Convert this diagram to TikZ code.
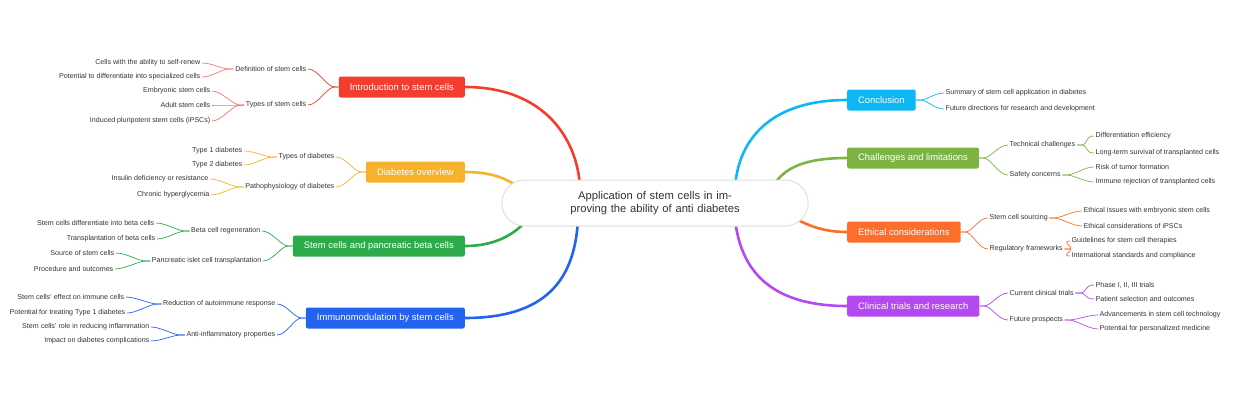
\documentclass[tikz,border=0pt]{standalone}
\usepackage{fontspec}
\setmainfont{Liberation Sans}
\usetikzlibrary{shapes.misc,backgrounds}
\definecolor{cred}{HTML}{F23D2F}
\definecolor{cyel}{HTML}{F6B22B}
\definecolor{cgrn}{HTML}{2DAB4B}
\definecolor{cblu}{HTML}{2462F0}
\definecolor{ccya}{HTML}{0DB7F6}
\definecolor{clim}{HTML}{7DB343}
\definecolor{cora}{HTML}{FF6D2A}
\definecolor{cpur}{HTML}{B449F2}
\definecolor{txt}{HTML}{333333}
\begin{document}
\begin{tikzpicture}[x=1pt,y=-1pt,
  main/.style={rounded corners=2pt,text=white,font=\fontsize{9.4}{11}\selectfont,minimum height=21,inner xsep=11pt},
  lt/.style={text=txt,font=\fontsize{7.1}{8}\selectfont,inner sep=1.5pt},
  mc/.style={line width=2.6pt},
  sc/.style={line width=0.7pt}]
\useasboundingbox (0,0) rectangle (1240,400);
\node[rounded rectangle,draw=gray!25,line width=1pt,fill=white,minimum width=313,minimum height=46,text width=270,align=center,text=txt,font=\fontsize{11.2}{13}\selectfont] (ctr) at (655,203) {Application of stem cells in improving the ability of anti diabetes};
\coordinate (e1) at (580,188); \coordinate (e2) at (525,192);
\coordinate (e3) at (530,216); \coordinate (e4) at (578,220);
\coordinate (e5) at (735,188); \coordinate (e6) at (770,192);
\coordinate (e7) at (785,214); \coordinate (e8) at (735,220);
% main nodes
\node[main,fill=cred,anchor=east] (m1) at (465,87) {Introduction to stem cells};
\node[main,fill=cyel,anchor=east] (m2) at (465,172) {Diabetes overview};
\node[main,fill=cgrn,anchor=east] (m3) at (465,246) {Stem cells and pancreatic beta cells};
\node[main,fill=cblu,anchor=east] (m4) at (465,318) {Immunomodulation by stem cells};
\node[main,fill=ccya,anchor=west] (m5) at (847,100) {Conclusion};
\node[main,fill=clim,anchor=west] (m6) at (847,158) {Challenges and limitations};
\node[main,fill=cora,anchor=west] (m7) at (847,232) {Ethical considerations};
\node[main,fill=cpur,anchor=west] (m8) at (847,306) {Clinical trials and research};
\begin{scope}[on background layer]
\draw[mc,cred] (m1.east) .. controls (545,87) and (578,140) .. (e1);
\draw[mc,cyel] (m2.east) .. controls (495,172) and (510,180) .. (e2);
\draw[mc,cgrn] (m3.east) .. controls (500,246) and (520,230) .. (e3);
\draw[mc,cblu] (m4.east) .. controls (555,318) and (575,270) .. (e4);
\draw[mc,ccya] (m5.west) .. controls (770,100) and (738,140) .. (e5);
\draw[mc,clim] (m6.west) .. controls (800,158) and (780,170) .. (e6);
\draw[mc,cora] (m7.west) .. controls (815,232) and (800,220) .. (e7);
\draw[mc,cpur] (m8.west) .. controls (760,306) and (740,260) .. (e8);
\end{scope}
% left sub nodes
\node[lt,anchor=east] (a1) at (308,69) {Definition of stem cells};
\node[lt,anchor=east] (a2) at (308,105) {Types of stem cells};
\node[lt,anchor=east] (a11) at (202,63) {Cells with the ability to self-renew};
\node[lt,anchor=east] (a12) at (202,77) {Potential to differentiate into specialized cells};
\node[lt,anchor=east] (a21) at (212,91) {Embryonic stem cells};
\node[lt,anchor=east] (a22) at (212,105) {Adult stem cells};
\node[lt,anchor=east] (a23) at (212,121) {Induced pluripotent stem cells (iPSCs)};
\node[lt,anchor=east] (b1) at (336,157) {Types of diabetes};
\node[lt,anchor=east] (b2) at (336,187) {Pathophysiology of diabetes};
\node[lt,anchor=east] (b11) at (244,151) {Type 1 diabetes};
\node[lt,anchor=east] (b12) at (244,165) {Type 2 diabetes};
\node[lt,anchor=east] (b21) at (210,179) {Insulin deficiency or resistance};
\node[lt,anchor=east] (b22) at (211,195) {Chronic hyperglycemia};
\node[lt,anchor=east] (c1) at (262,231) {Beta cell regeneration};
\node[lt,anchor=east] (c2) at (263,261) {Pancreatic islet cell transplantation};
\node[lt,anchor=east] (c11) at (156,223) {Stem cells differentiate into beta cells};
\node[lt,anchor=east] (c12) at (157,239) {Transplantation of beta cells};
\node[lt,anchor=east] (c21) at (116,253) {Source of stem cells};
\node[lt,anchor=east] (c22) at (115,269) {Procedure and outcomes};
\node[lt,anchor=east] (d1) at (277,304) {Reduction of autoimmune response};
\node[lt,anchor=east] (d2) at (277,335) {Anti-inflammatory properties};
\node[lt,anchor=east] (d11) at (126,297) {Stem cells' effect on immune cells};
\node[lt,anchor=east] (d12) at (127,313) {Potential for treating Type 1 diabetes};
\node[lt,anchor=east] (d21) at (151,327) {Stem cells' role in reducing inflammation};
\node[lt,anchor=east] (d22) at (151,341) {Impact on diabetes complications};
% right sub nodes
\node[lt,anchor=west] (f1) at (944,93) {Summary of stem cell application in diabetes};
\node[lt,anchor=west] (f2) at (944,109) {Future directions for research and development};
\node[lt,anchor=west] (g1) at (1008,145) {Technical challenges};
\node[lt,anchor=west] (g2) at (1008,175) {Safety concerns};
\node[lt,anchor=west] (g11) at (1094,136) {Differentiation efficiency};
\node[lt,anchor=west] (g12) at (1094,153) {Long-term survival of transplanted cells};
\node[lt,anchor=west] (g21) at (1094,167) {Risk of tumor formation};
\node[lt,anchor=west] (g22) at (1094,182) {Immune rejection of transplanted cells};
\node[lt,anchor=west] (h1) at (988,218) {Stem cell sourcing};
\node[lt,anchor=west] (h2) at (988,249) {Regulatory frameworks};
\node[lt,anchor=west] (h11) at (1082,211) {Ethical issues with embryonic stem cells};
\node[lt,anchor=west] (h12) at (1082,226) {Ethical considerations of iPSCs};
\node[lt,anchor=west] (h21) at (1070,241) {Guidelines for stem cell therapies};
\node[lt,anchor=west] (h22) at (1070,256) {International standards and compliance};
\node[lt,anchor=west] (k1) at (1008,293) {Current clinical trials};
\node[lt,anchor=west] (k2) at (1008,320) {Future prospects};
\node[lt,anchor=west] (k11) at (1094,285) {Phase I, II, III trials};
\node[lt,anchor=west] (k12) at (1094,299) {Patient selection and outcomes};
\node[lt,anchor=west] (k21) at (1098,315) {Advancements in stem cell technology};
\node[lt,anchor=west] (k22) at (1098,329) {Potential for personalized medicine};
\foreach \p/\c/\col in {m1/a1/cred,m1/a2/cred,a1/a11/cred!70,a1/a12/cred!70,a2/a21/cred!70,a2/a22/cred!70,a2/a23/cred!70,
  m2/b1/cyel,m2/b2/cyel,b1/b11/cyel,b1/b12/cyel,b2/b21/cyel,b2/b22/cyel,
  m3/c1/cgrn,m3/c2/cgrn,c1/c11/cgrn,c1/c12/cgrn,c2/c21/cgrn,c2/c22/cgrn,
  m4/d1/cblu,m4/d2/cblu,d1/d11/cblu,d1/d12/cblu,d2/d21/cblu,d2/d22/cblu}
  \draw[sc,\col] (\p.west) -- ++(-4,0) .. controls +(-8,0) and +(10,0) .. (\c.east);
\foreach \p/\c/\col in {m5/f1/ccya,m5/f2/ccya,
  m6/g1/clim,m6/g2/clim,g1/g11/clim,g1/g12/clim,g2/g21/clim,g2/g22/clim,
  m7/h1/cora,m7/h2/cora,h1/h11/cora,h1/h12/cora,h2/h21/cora,h2/h22/cora,
  m8/k1/cpur,m8/k2/cpur,k1/k11/cpur,k1/k12/cpur,k2/k21/cpur,k2/k22/cpur}
  \draw[sc,\col] (\p.east) -- ++(4,0) .. controls +(8,0) and +(-10,0) .. (\c.west);
\end{tikzpicture}
\end{document}
